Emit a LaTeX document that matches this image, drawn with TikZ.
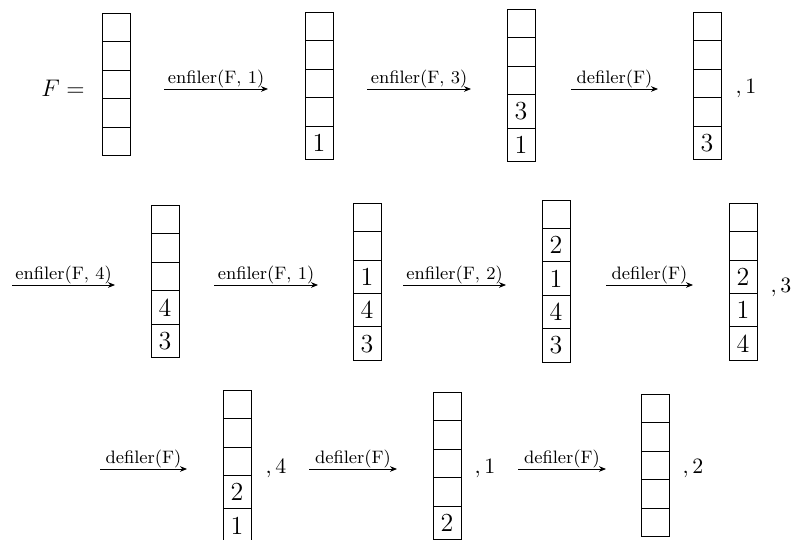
\documentclass[tikz,border=0pt]{standalone}
\usetikzlibrary{arrows.meta, positioning}
\tikzset{
    cell/.style={rectangle, draw, outer sep=0pt, inner ysep=4pt, minimum width=14pt, minimum height=14.25pt, anchor=north, font=\fontsize{13}{15}\selectfont},
    arrow/.style={->, >={Stealth[length=3.5pt, width=2.8pt]}},
    op/.style={above, inner sep=0.5pt, font=\small},
    rest/.style={font=\fontsize{11}{13}\selectfont}
}
% une file de 5 cases : nom, x, y du haut, contenu (du haut vers le bas)
\newcommand{\drawstack}[4]{%
    \foreach \v [count=\i] in {#4} {
        \ifnum\i=1
            \node[cell] (#1-\i) at (#2,#3) {\v};
        \else
            \pgfmathtruncatemacro{\j}{\i-1}
            \node[cell] (#1-\i) at (#1-\j.south) {\v};
        \fi
    }%
}

\begin{document}
\begin{tikzpicture}[x=0.5pt, y=-0.5pt]
    \useasboundingbox (0,0) rectangle (794,540);
    \clip (0,0) rectangle (794,540);

    % ligne 1
    \node[font=\large] (F) at (63,88) {$F =$};
    \drawstack{s1}{116}{13}{,,,,}
    \drawstack{s2}{319}{12}{,,,,1}
    \drawstack{s3}{521}{9}{,,,3,1}
    \drawstack{s4}{707}{12}{,,,,3}
    \node[rest] (r1) at (746,89) {$,1$};

    \coordinate (a1s) at (164,89);  \coordinate (a1e) at (268,89);
    \coordinate (a2s) at (367,89);  \coordinate (a2e) at (471,89);
    \coordinate (a3s) at (571,89);  \coordinate (a3e) at (658,89);
    \draw[arrow] (a1s) -- node[op] {enfiler(F, 1)} (a1e);
    \draw[arrow] (a2s) -- node[op] {enfiler(F, 3)} (a2e);
    \draw[arrow] (a3s) -- node[op] {defiler(F)} (a3e);

    % ligne 2
    \drawstack{s5}{165}{205}{,,,4,3}
    \drawstack{s6}{367}{203}{,,1,4,3}
    \drawstack{s7}{556}{200}{,2,1,4,3}
    \drawstack{s8}{743}{203}{,,2,1,4}
    \node[rest] (r2) at (781,288) {$,3$};

    \coordinate (a4s) at (12,285);   \coordinate (a4e) at (115,285);
    \coordinate (a5s) at (214,285);  \coordinate (a5e) at (318,285);
    \coordinate (a6s) at (403,285);  \coordinate (a6e) at (506,285);
    \coordinate (a7s) at (606,285);  \coordinate (a7e) at (693,285);
    \draw[arrow] (a4s) -- node[op] {enfiler(F, 4)} (a4e);
    \draw[arrow] (a5s) -- node[op] {enfiler(F, 1)} (a5e);
    \draw[arrow] (a6s) -- node[op] {enfiler(F, 2)} (a6e);
    \draw[arrow] (a7s) -- node[op] {defiler(F)} (a7e);

    % ligne 3
    \drawstack{s9}{237}{390}{,,,2,1}
    \drawstack{s10}{447}{392}{,,,,2}
    \drawstack{s11}{655}{394}{,,,,}
    \node[rest] (r3) at (276,469) {$,4$};
    \node[rest] (r4) at (485,469) {$,1$};
    \node[rest] (r5) at (693,469) {$,2$};

    \coordinate (a8s) at (100,469);   \coordinate (a8e) at (187,469);
    \coordinate (a9s) at (309,469);   \coordinate (a9e) at (397,469);
    \coordinate (a10s) at (518,469);  \coordinate (a10e) at (606,469);
    \draw[arrow] (a8s) -- node[op] {defiler(F)} (a8e);
    \draw[arrow] (a9s) -- node[op] {defiler(F)} (a9e);
    \draw[arrow] (a10s) -- node[op] {defiler(F)} (a10e);
\end{tikzpicture}
\end{document}
